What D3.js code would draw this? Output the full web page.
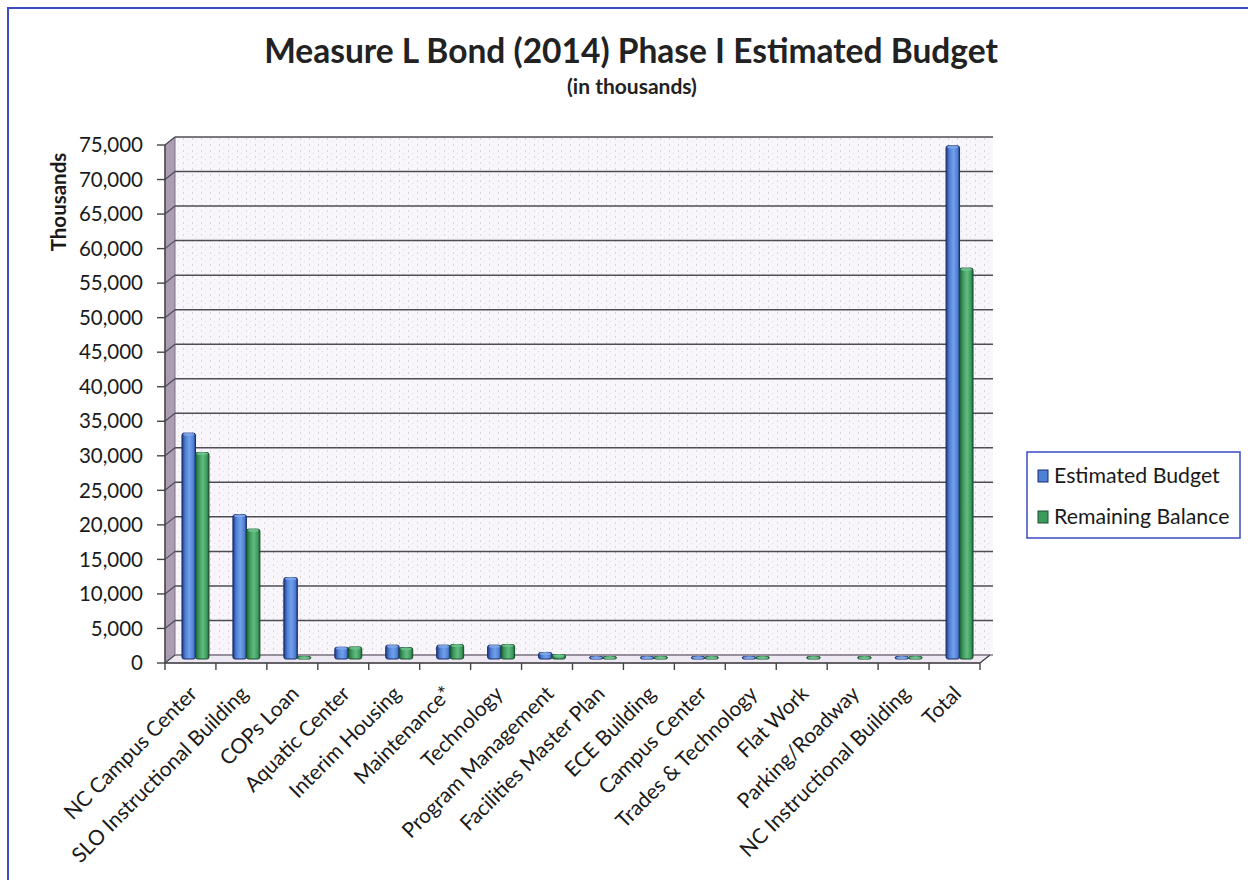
<!DOCTYPE html>
<html><head><meta charset="utf-8">
<script src="https://cdn.jsdelivr.net/npm/d3@7"></script>
<style>
html,body{margin:0;padding:0;background:#fff;}
svg{display:block;font-family:Lato,"Open Sans",sans-serif;}
</style></head>
<body><svg id="c" width="1248" height="880"></svg>
<script>
const categories = ["NC Campus Center","SLO Instructional Building","COPs Loan","Aquatic Center","Interim Housing","Maintenance*","Technology","Program Management","Facilities Master Plan","ECE Building","Campus Center","Trades & Technology","Flat Work","Parking/Roadway","NC Instructional Building","Total"];
const estimatedBudget = [32700,20900,11800,1700,2000,2000,2000,950,150,200,200,200,0,0,120,74300];
const remainingBalance = [29900,18800,100,1750,1650,2100,2100,650,120,150,150,150,100,100,100,56600];
const seriesNames = ["Estimated Budget","Remaining Balance"];
const yTicks = [0,5000,10000,15000,20000,25000,30000,35000,40000,45000,50000,55000,60000,65000,70000,75000];

(function(){
const svg = d3.select("#c");
const pL=165,pR=980,pB=663,pT=145;
const dx=10, dy=-8; // 3D depth offset

const x = d3.scaleBand().domain(categories).range([pL,pR]).padding(0);
const y = d3.scaleLinear().domain([0,75000]).range([pB,pT]);

const defs = svg.append("defs");
const pat = defs.append("pattern").attr("id","dots").attr("width",9).attr("height",6).attr("patternUnits","userSpaceOnUse");
pat.append("rect").attr("width",9).attr("height",6).attr("fill","#f8f6fa");
pat.append("rect").attr("x",3).attr("y",0).attr("width",1).attr("height",2).attr("fill","#d8d4dc");
pat.append("rect").attr("x",7).attr("y",3).attr("width",1).attr("height",1).attr("fill","#e2dee6");

function grad(id, dark, mid, light){
  const g = defs.append("linearGradient").attr("id",id).attr("x1","0").attr("x2","1").attr("y1","0").attr("y2","0");
  g.append("stop").attr("offset","0%").attr("stop-color",dark);
  g.append("stop").attr("offset","25%").attr("stop-color",mid);
  g.append("stop").attr("offset","55%").attr("stop-color",light);
  g.append("stop").attr("offset","85%").attr("stop-color",mid);
  g.append("stop").attr("offset","100%").attr("stop-color",dark);
}
grad("gBlue","#22387e","#4d80d6","#74a0ea");
grad("gGreen","#1f5c36","#3c9a5d","#62bb80");
const colors = {fill:["url(#gBlue)","url(#gGreen)"], edge:["#1c2c6a","#1b4f2e"], topc:["#7ea6ea","#6ec28c"], solid:["#4d80d6","#3c9a5d"]};

svg.append("path").attr("d",`M8,880 L8,8 L1248,8`).attr("fill","none").attr("stroke","#3a4bc4").attr("stroke-width",2);

svg.append("text").attr("x",631).attr("y",63).attr("text-anchor","middle").attr("font-size",33.5).attr("font-weight","bold").attr("fill","#222").text("Measure L Bond (2014) Phase I Estimated Budget");
svg.append("text").attr("x",632).attr("y",94).attr("text-anchor","middle").attr("font-size",21).attr("font-weight","bold").attr("fill","#222").text("(in thousands)");

svg.append("rect").attr("x",pL+dx).attr("y",pT+dy).attr("width",pR+dx+3-(pL+dx)).attr("height",pB-pT).attr("fill","url(#dots)");
svg.append("polygon").attr("points",`${pL},${pT} ${pL+dx},${pT+dy} ${pL+dx},${pB+dy} ${pL},${pB}`).attr("fill","#ab9db2").attr("stroke","#7d7085").attr("stroke-width",1);
svg.append("polygon").attr("points",`${pL},${pB} ${pR},${pB} ${pR+dx},${pB+dy} ${pL+dx},${pB+dy}`).attr("fill","#eee8f2").attr("stroke","#8a8090").attr("stroke-width",1);

const grid = svg.append("g");
grid.selectAll("line.h").data(yTicks).join("line").attr("class","h")
  .attr("x1",pL+dx).attr("x2",pR+dx+3).attr("y1",d=>y(d)+dy).attr("y2",d=>y(d)+dy)
  .attr("stroke",d=>d===0?"#8a8090":"#4d4d55").attr("stroke-width",1.5);
grid.selectAll("line.d").data(yTicks).join("line").attr("class","d")
  .attr("x1",pL).attr("x2",pL+dx).attr("y1",d=>y(d)).attr("y2",d=>y(d)+dy)
  .attr("stroke","#4d4d55").attr("stroke-width",1.2);

const bw = 13.5;
const series = [estimatedBudget, remainingBalance];
const gb = svg.append("g");
categories.forEach((c,i)=>{
  series.forEach((vals,s)=>{
    const v = vals[i];
    if(v<=0) return;
    const cx = x(c)+x.bandwidth()/2 + 5;
    const x0 = s===0 ? cx-bw : cx;
    const base = pB-4;
    const yt = Math.min(y(v)-4, base-2.5);
    gb.append("rect").attr("x",x0).attr("y",yt).attr("width",bw).attr("height",base-yt)
      .attr("rx",2).attr("fill",colors.fill[s]).attr("stroke",colors.edge[s]).attr("stroke-width",1);
    gb.append("ellipse").attr("cx",x0+bw/2).attr("cy",yt+1.2).attr("rx",bw/2-1).attr("ry",1.6)
      .attr("fill",colors.topc[s]).attr("opacity",0.9);
  });
});

const ax = svg.append("g");
ax.append("line").attr("x1",pL).attr("x2",pL).attr("y1",pT).attr("y2",pB).attr("stroke","#444").attr("stroke-width",1.4);
ax.append("line").attr("x1",pL).attr("x2",pR).attr("y1",pB).attr("y2",pB).attr("stroke","#444").attr("stroke-width",1.4);
ax.append("line").attr("x1",pR).attr("x2",pR+dx).attr("y1",pB).attr("y2",pB+dy).attr("stroke","#444").attr("stroke-width",1.2);
ax.selectAll("line.yt").data(yTicks).join("line").attr("class","yt")
  .attr("x1",pL-8).attr("x2",pL).attr("y1",d=>y(d)).attr("y2",d=>y(d)).attr("stroke","#444").attr("stroke-width",1.4);
ax.selectAll("text.yl").data(yTicks).join("text").attr("class","yl")
  .attr("x",pL-22).attr("y",d=>y(d)).attr("dy","0.35em").attr("text-anchor","end")
  .attr("font-size",20.5).attr("fill","#1a1a1a").text(d=>d3.format(",")(d));
const xt = d3.range(categories.length+1).map(i=>pL+i*x.bandwidth());
ax.selectAll("line.xt").data(xt).join("line").attr("class","xt")
  .attr("x1",d=>d).attr("x2",d=>d).attr("y1",pB).attr("y2",pB+7).attr("stroke","#444").attr("stroke-width",1.4);
ax.selectAll("text.xl").data(categories).join("text").attr("class","xl")
  .attr("transform",d=>`translate(${x(d)+x.bandwidth()/2+8},${pB+32}) rotate(-45)`)
  .attr("text-anchor","end").attr("font-size",21).attr("fill","#1a1a1a").text(d=>d);

svg.append("text").attr("transform","translate(66,202) rotate(-90)").attr("text-anchor","middle")
  .attr("font-size",20.5).attr("font-weight","bold").attr("fill","#1a1a1a").text("Thousands");

const lg = svg.append("g");
lg.append("rect").attr("x",1027).attr("y",452).attr("width",213).attr("height",86).attr("fill","#fff").attr("stroke","#3a4bc4").attr("stroke-width",1.5);
seriesNames.forEach((n,s)=>{
  const ly = 476 + s*41;
  lg.append("rect").attr("x",1038).attr("y",ly-6).attr("width",10).attr("height",12).attr("fill",colors.solid[s]).attr("stroke",colors.edge[s]).attr("stroke-width",1);
  lg.append("text").attr("x",1054).attr("y",ly).attr("dy","0.35em").attr("font-size",21.3).attr("fill","#1a1a1a").text(n);
});
})();
</script></body></html>
